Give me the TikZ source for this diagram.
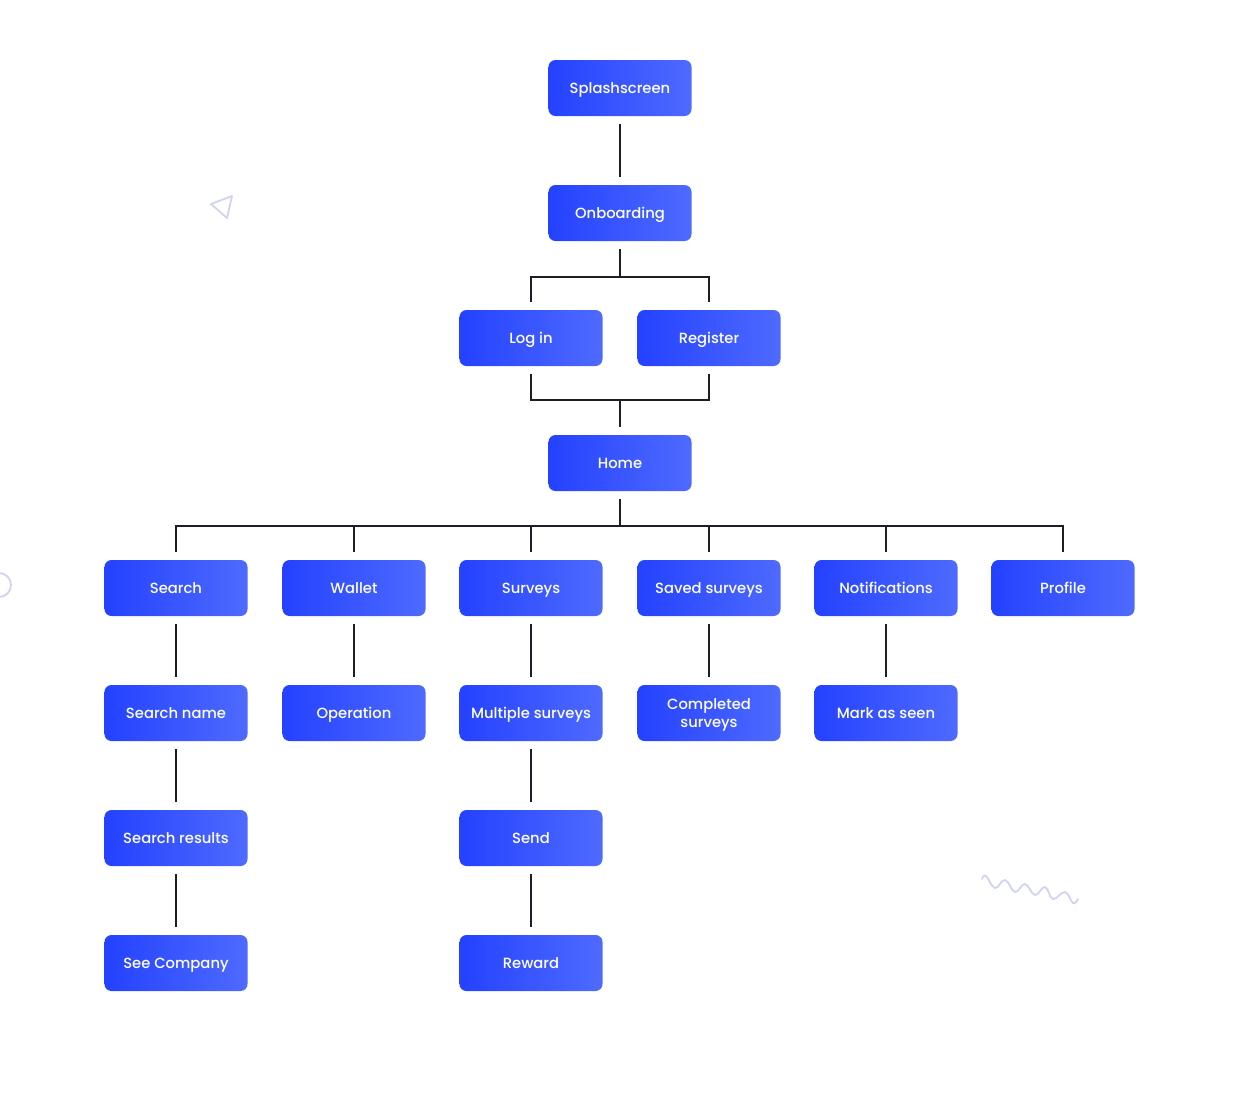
\documentclass[tikz,border=0pt]{standalone}
\usepackage{fontspec}
\setmainfont{Poppins Medium}
\usepackage{tikz}
\usetikzlibrary{positioning}
\definecolor{boxleft}{RGB}{36,66,255}
\definecolor{boxright}{RGB}{78,106,255}
\definecolor{wire}{RGB}{30,30,40}
\definecolor{doodle}{RGB}{208,212,238}
\begin{document}
\begin{tikzpicture}[x=0.025cm,y=-0.025cm,
    screen/.style={rounded corners=5pt,left color=boxleft,right color=boxright,
                   text=white,font=\fontsize{10.5}{13}\selectfont,
                   text height=9.5pt,text depth=2pt,
                   minimum width=3.575cm,minimum height=1.4cm,align=center,inner sep=2pt},
    link/.style={draw=wire,line width=1.8pt},
    sketch/.style={draw=doodle,line width=1.3pt,line join=round,line cap=round}]
    \useasboundingbox (0,0) rectangle (1240,1101);
    \def\gap{0.2cm}

    % top of the flow
    \node[screen] (splash) at (620,88) {Splashscreen};
    \node[screen] (onboard) at (620,213) {Onboarding};
    \node[screen] (login) at (531,338) {Log in};
    \node[screen] (register) at (709,338) {Register};
    \node[screen] (home) at (620,463) {Home};

    % main sections
    \node[screen] (search) at (176,588) {Search};
    \node[screen] (wallet) at (354,588) {Wallet};
    \node[screen] (surveys) at (531,588) {Surveys};
    \node[screen] (saved) at (709,588) {Saved surveys};
    \node[screen] (notif) at (886,588) {Notifications};
    \node[screen] (profile) at (1063,588) {Profile};

    % sub screens
    \node[screen] (sname) at (176,713) {Search name};
    \node[screen] (operation) at (354,713) {Operation};
    \node[screen] (multiple) at (531,713) {Multiple surveys};
    \node[screen,text height=22.5pt] (completed) at (709,713) {Completed\\surveys};
    \node[screen] (seen) at (886,713) {Mark as seen};
    \node[screen] (sresults) at (176,838) {Search results};
    \node[screen] (send) at (531,838) {Send};
    \node[screen] (company) at (176,963) {See Company};
    \node[screen] (reward) at (531,963) {Reward};

    \coordinate (busA) at (620,277);
    \coordinate (busB) at (620,400);
    \coordinate (busC) at (620,526);

    \foreach \a/\b in {splash/onboard,search/sname,sname/sresults,sresults/company,
                       wallet/operation,surveys/multiple,multiple/send,send/reward,
                       saved/completed,notif/seen}
        \draw[link] ([yshift=-\gap]\a.south) -- ([yshift=\gap]\b.north);

    \draw[link] ([yshift=-\gap]onboard.south) -- (busA);
    \draw[link] ([yshift=\gap]login.north) |- (busA) -| ([yshift=\gap]register.north);
    \draw[link] ([yshift=-\gap]login.south) |- (busB) -| ([yshift=-\gap]register.south);
    \draw[link] (busB) -- ([yshift=\gap]home.north);
    \draw[link] ([yshift=-\gap]home.south) -- (busC);
    \draw[link] ([yshift=\gap]search.north) |- (busC) -| ([yshift=\gap]profile.north);
    \foreach \n in {wallet,surveys,saved,notif}
        \draw[link] ([yshift=\gap]\n.north) -- (\n.north |- busC);

    % doodles
    \draw[sketch] (211,204) -- (232,196) -- (227,218) -- cycle;
    \draw[sketch] (-1,585) circle (12);
    \draw[sketch] plot[smooth,tension=0.7] coordinates {(982,879) (986,876) (995,888)
        (1005,880) (1015,892) (1025,884) (1035,895) (1045,887) (1053,899)
        (1065,892) (1073,903) (1078,899)};
\end{tikzpicture}
\end{document}
